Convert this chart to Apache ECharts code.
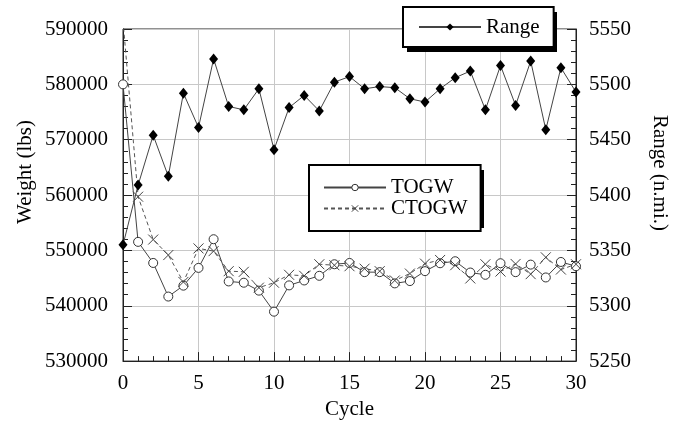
<!DOCTYPE html>
<html>
<head>
<meta charset="utf-8">
<script src="https://cdn.jsdelivr.net/npm/echarts@6/dist/echarts.min.js"></script>
<style>
html,body{margin:0;padding:0;background:#fff;}
#chart{width:673px;height:425px;}
</style>
</head>
<body>
<div id="chart"></div>
<script>
var cycles = [0,1,2,3,4,5,6,7,8,9,10,11,12,13,14,15,16,17,18,19,20,21,22,23,24,25,26,27,28,29,30];
var rangeNmi = [5355,5409,5454,5417,5492,5461,5523,5480,5477,5496,5441,5479,5490,5476,5502,5507,5496,5498,5497,5487,5484,5496,5506,5512,5477,5517,5481,5521,5459,5515,5493];
var togw = [580000,551540,547730,541660,543630,546840,552020,544390,544160,542730,538930,543680,544570,545410,547500,547730,546070,546070,544040,544460,546250,547680,548040,546000,545590,547680,546070,547430,545110,547910,547140];
var ctogw = [591500,559700,551960,549160,544300,550360,549870,546250,546130,543270,544160,545590,545410,547500,547320,547140,546700,546250,544570,545820,547610,548270,547320,544930,547500,546180,547550,545710,548750,546540,547500];
var weightTicks = [530000,590000,10000];
var rangeTicks = [5250,5550,50];
var cycleTicks = [0,30,5];

function pairs(xs, ys){ return xs.map(function(x,i){ return [x, ys[i]]; }); }
function plain(v){ return String(v); }

var FONT = 'Liberation Serif';
var chart = echarts.init(document.getElementById('chart'));
var axisCommon = {
  axisLine: {show: true, lineStyle: {color: '#222', width: 1}},
  axisTick: {show: true, inside: true, length: 9, lineStyle: {color: '#222'}},
  minorTick: {show: true, splitNumber: 5, length: 5, lineStyle: {color: '#222'}}
};
var legendBox = {
  backgroundColor: '#fff', borderColor: '#000', borderWidth: 2, borderRadius: 0,
  selectedMode: false, z: 10
};
chart.setOption({
  animation: false,
  backgroundColor: '#fff',
  grid: {left: 123, right: 97, top: 29, bottom: 60, show: true, borderColor: '#222', borderWidth: 1, containLabel: false},
  xAxis: Object.assign({}, axisCommon, {
    type: 'value', min: cycleTicks[0], max: cycleTicks[1], interval: cycleTicks[2],
    name: 'Cycle', nameLocation: 'middle', nameGap: 33,
    nameTextStyle: {color: '#000', fontFamily: FONT, fontSize: 21},
    axisLabel: {color: '#000', fontFamily: FONT, fontSize: 21, margin: 12, formatter: plain},
    splitLine: {show: true, lineStyle: {color: '#c8c8c8', width: 1}}
  }),
  yAxis: [
    Object.assign({}, axisCommon, {
      type: 'value', min: weightTicks[0], max: weightTicks[1], interval: weightTicks[2],
      axisLabel: {color: '#000', fontFamily: FONT, fontSize: 21, margin: 15, formatter: plain},
      splitLine: {show: true, lineStyle: {color: '#c8c8c8', width: 1}}
    }),
    Object.assign({}, axisCommon, {
      type: 'value', position: 'right', min: rangeTicks[0], max: rangeTicks[1], interval: rangeTicks[2],
      axisLabel: {color: '#000', fontFamily: FONT, fontSize: 21, margin: 13, formatter: plain},
      splitLine: {show: false}
    })
  ],
  legend: [
    Object.assign({}, legendBox, {
      data: ['Range'], left: 403, top: 7, orient: 'horizontal',
      padding: [9, 14, 9, 15], itemWidth: 62, itemHeight: 9,
      textStyle: {color: '#000', fontFamily: FONT, fontSize: 21, lineHeight: 22}
    }),
    Object.assign({}, legendBox, {
      data: ['TOGW', 'CTOGW'], left: 309, top: 165, orient: 'vertical',
      padding: [12, 13, 12, 14], itemWidth: 62, itemHeight: 8, itemGap: 0,
      itemStyle: {borderWidth: 1},
      textStyle: {color: '#000', fontFamily: FONT, fontSize: 21, lineHeight: 17}
    })
  ],
  graphic: [
    {type: 'rect', z: 5, silent: true, shape: {x: 407, y: 12, width: 150, height: 40}, style: {fill: '#000'}},
    {type: 'rect', z: 5, silent: true, shape: {x: 313, y: 170, width: 171, height: 58}, style: {fill: '#000'}},
    {type: 'text', x: 25, y: 172, rotation: Math.PI/2,
     style: {text: 'Weight (lbs)', fill: '#000', font: '21px "Liberation Serif"', align: 'center', verticalAlign: 'middle'}},
    {type: 'text', x: 660, y: 173, rotation: -Math.PI/2,
     style: {text: 'Range (n.mi.)', fill: '#000', font: '21px "Liberation Serif"', align: 'center', verticalAlign: 'middle'}}
  ],
  series: [
    {
      name: 'Range', type: 'line', yAxisIndex: 1, data: pairs(cycles, rangeNmi),
      symbol: 'diamond', symbolSize: [9, 11], showAllSymbol: true,
      lineStyle: {color: '#444', width: 1}, itemStyle: {color: '#000'}, z: 3
    },
    {
      name: 'TOGW', type: 'line', yAxisIndex: 0, data: pairs(cycles, togw),
      symbol: 'circle', symbolSize: 9, showAllSymbol: true,
      lineStyle: {color: '#444', width: 1}, itemStyle: {color: '#fff', borderColor: '#333', borderWidth: 1}, z: 3
    },
    {
      name: 'CTOGW', type: 'line', yAxisIndex: 0, data: pairs(cycles, ctogw),
      symbol: 'path://M0,0L10,10M10,0L0,10', symbolSize: 10, showAllSymbol: true,
      lineStyle: {color: '#555', width: 1, type: [4, 3]},
      itemStyle: {color: '#444', borderColor: '#444', borderWidth: 1}, z: 3
    }
  ]
});
</script>
</body>
</html>
